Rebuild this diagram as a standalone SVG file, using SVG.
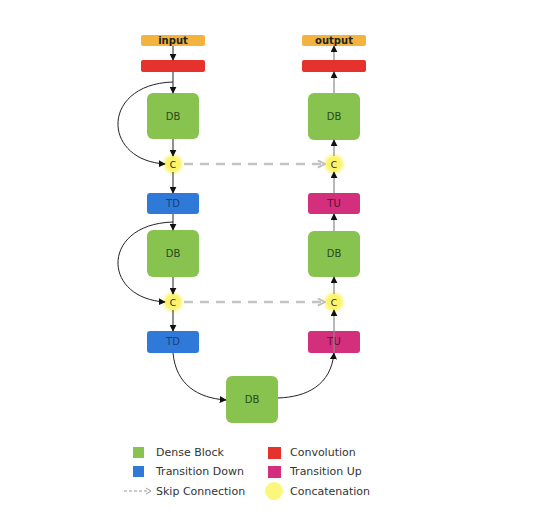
<svg xmlns="http://www.w3.org/2000/svg" width="540" height="512" viewBox="0 0 540 512">
<defs>
<marker id="ah" viewBox="0 0 10 10" refX="9" refY="5" markerWidth="7" markerHeight="7" markerUnits="userSpaceOnUse" orient="auto">
<path d="M0,0 L10,5 L0,10 z" fill="#111"/>
</marker>
<marker id="ahg" viewBox="0 0 10 10" refX="9" refY="5" markerWidth="9" markerHeight="9" markerUnits="userSpaceOnUse" orient="auto">
<path d="M1,1 L9,5 L1,9" fill="none" stroke="#bdbdbd" stroke-width="2"/>
</marker>
<radialGradient id="glow">
<stop offset="0.55" stop-color="#fbf36a"/>
<stop offset="0.75" stop-color="#fcf7a0" stop-opacity="0.8"/>
<stop offset="1" stop-color="#fffbd0" stop-opacity="0"/>
</radialGradient>
</defs>
<style>
.t{font-family:"DejaVu Sans","Liberation Sans",sans-serif;text-anchor:middle}
.io{fill:#f2b43f}
.cv{fill:#e5322c}
.db{fill:#87c34e}
.td{fill:#2f7ad9}
.tu{fill:#d42f7d}
.lb{font-size:10px}
.ln{stroke:#222;stroke-width:1;fill:none}
.lg{stroke:#888;stroke-width:1.2;fill:none}
.leg{font-family:"DejaVu Sans","Liberation Sans",sans-serif;font-size:11px;fill:#333}
</style>
<rect width="540" height="512" fill="#ffffff"/>

<g id="input"><rect class="io" x="141" y="35" width="64" height="11" rx="2"/><text class="t" x="173" y="44" font-size="10" font-weight="bold" fill="#222">input</text></g>
<g id="conv-in"><rect class="cv" x="141" y="60" width="64" height="12" rx="2"/></g>
<g id="db1"><rect class="db" x="147" y="93" width="52" height="46" rx="6"/><text class="t lb" x="173" y="120" fill="#2a4a1c">DB</text></g>
<g id="c1"><circle cx="173" cy="164" r="12" fill="url(#glow)"/><text class="t" x="173" y="167.5" font-size="9" fill="#222">C</text></g>
<g id="td1"><rect class="td" x="147" y="193" width="52" height="21" rx="3"/><text class="t lb" x="173" y="207" fill="#163f7d">TD</text></g>
<g id="db2"><rect class="db" x="147" y="230" width="52" height="47" rx="6"/><text class="t lb" x="173" y="257" fill="#2a4a1c">DB</text></g>
<g id="c2"><circle cx="173" cy="302" r="12" fill="url(#glow)"/><text class="t" x="173" y="305.5" font-size="9" fill="#222">C</text></g>
<g id="td2"><rect class="td" x="147" y="331" width="52" height="22" rx="3"/><text class="t lb" x="173" y="345" fill="#163f7d">TD</text></g>
<g id="db-bottom"><rect class="db" x="226" y="376" width="52" height="47" rx="6"/><text class="t lb" x="252" y="403" fill="#2a4a1c">DB</text></g>
<g id="tu2"><rect class="tu" x="308" y="331" width="52" height="22" rx="3"/><text class="t lb" x="334" y="345" fill="#5a0f2e">TU</text></g>
<g id="c4"><circle cx="334" cy="302" r="12" fill="url(#glow)"/><text class="t" x="334" y="305.5" font-size="9" fill="#222">C</text></g>
<g id="db4"><rect class="db" x="308" y="231" width="52" height="46" rx="6"/><text class="t lb" x="334" y="257" fill="#2a4a1c">DB</text></g>
<g id="tu1"><rect class="tu" x="308" y="193" width="52" height="21" rx="3"/><text class="t lb" x="334" y="207" fill="#5a0f2e">TU</text></g>
<g id="c3"><circle cx="334" cy="164" r="12" fill="url(#glow)"/><text class="t" x="334" y="167.5" font-size="9" fill="#222">C</text></g>
<g id="db3"><rect class="db" x="308" y="93" width="52" height="47" rx="6"/><text class="t lb" x="334" y="120" fill="#2a4a1c">DB</text></g>
<g id="conv-out"><rect class="cv" x="302" y="60" width="64" height="12" rx="2"/></g>
<g id="output"><rect class="io" x="302" y="35" width="64" height="11" rx="2"/><text class="t" x="334" y="44" font-size="10" font-weight="bold" fill="#222">output</text></g>

<g id="connectors">
<line class="ln" x1="173" y1="46" x2="173" y2="60" marker-end="url(#ah)"/>
<line class="ln" x1="173" y1="72" x2="173" y2="93" marker-end="url(#ah)"/>
<line class="ln" x1="173" y1="139" x2="173" y2="156" marker-end="url(#ah)"/>
<line class="ln" x1="173" y1="172" x2="173" y2="193" marker-end="url(#ah)"/>
<line class="ln" x1="173" y1="214" x2="173" y2="230" marker-end="url(#ah)"/>
<line class="ln" x1="173" y1="277" x2="173" y2="294" marker-end="url(#ah)"/>
<line class="ln" x1="173" y1="310" x2="173" y2="331" marker-end="url(#ah)"/>
<path class="ln" d="M173,82 C101,84 101,160 165,164" marker-end="url(#ah)"/>
<path class="ln" d="M173,222 C101,224 101,298 165,302" marker-end="url(#ah)"/>
<path class="ln" d="M173,353 C176,385 198,398 226,400" marker-end="url(#ah)"/>
<path class="ln" d="M278,398 C307,397 331,385 334,353" marker-end="url(#ah)"/>
<line class="lg" x1="334" y1="353" x2="334" y2="310" marker-end="url(#ah)"/>
<line class="lg" x1="334" y1="294" x2="334" y2="277" marker-end="url(#ah)"/>
<line class="lg" x1="334" y1="231" x2="334" y2="214" marker-end="url(#ah)"/>
<line class="lg" x1="334" y1="193" x2="334" y2="172" marker-end="url(#ah)"/>
<line class="lg" x1="334" y1="156" x2="334" y2="140" marker-end="url(#ah)"/>
<line class="lg" x1="334" y1="93" x2="334" y2="72" marker-end="url(#ah)"/>
<line class="lg" x1="334" y1="60" x2="334" y2="46" marker-end="url(#ah)"/>
<line x1="184" y1="164" x2="325" y2="164" stroke="#c4c4c4" stroke-width="2.5" stroke-dasharray="9 7" marker-end="url(#ahg)"/>
<line x1="184" y1="302" x2="325" y2="302" stroke="#c4c4c4" stroke-width="2.5" stroke-dasharray="9 7" marker-end="url(#ahg)"/>
</g>

<g id="legend">
<rect class="db" x="133" y="447" width="11" height="11"/>
<text class="leg" x="156" y="456">Dense Block</text>
<rect class="td" x="133" y="466" width="11" height="11"/>
<text class="leg" x="156" y="475">Transition Down</text>
<line x1="124" y1="491" x2="149" y2="491" stroke="#999" stroke-width="1" stroke-dasharray="3 2"/>
<path d="M146,488 L151,491 L146,494" fill="none" stroke="#999" stroke-width="1"/>
<text class="leg" x="156" y="495">Skip Connection</text>
<rect class="cv" x="268" y="447" width="13" height="12"/>
<text class="leg" x="290" y="456">Convolution</text>
<rect class="tu" x="268" y="466" width="13" height="12"/>
<text class="leg" x="290" y="475">Transition Up</text>
<circle cx="274" cy="491" r="9" fill="#fbf77c"/>
<text class="leg" x="290" y="495">Concatenation</text>
</g>
</svg>
